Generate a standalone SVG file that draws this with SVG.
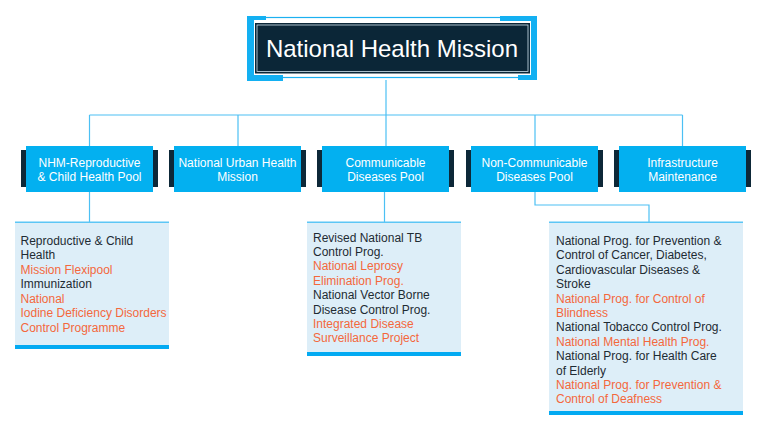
<svg xmlns="http://www.w3.org/2000/svg" width="768" height="426" viewBox="0 0 768 426">
<style>
.conn{fill:none;stroke:#4cc0f4;stroke-width:1.2}
.node{fill:#03b0f0}
.side{fill:#0d2838}
.nt{font-family:"Liberation Sans",Arial,sans-serif;font-size:12px;fill:#ffffff;text-anchor:middle}
.box{fill:#ddeef8}
.top{fill:#5cc6f5}
.bar{fill:#03aaf2}
.dt{font-family:"Liberation Sans",Arial,sans-serif;font-size:12px;fill:#1e2b33}
.o{fill:#f4683c}
</style>
<rect width="768" height="426" fill="#ffffff"/>
<g id="connectors">
<path class="conn" d="M386,80 V115 M89.5,115 H682.5 M89.5,115 V146 M238,115 V146 M386,115 V146 M535,115 V146 M682.5,115 V146"/>
<path class="conn" d="M89.5,192 V222 M384.5,192 V222 M535,192 V205 H649 V222"/>
</g>
<g id="title">
<rect x="250" y="17.5" width="284" height="60" fill="#ffffff" stroke="#1cb0f0" stroke-width="1.2"/>
<path d="M247,16 H266 V20 H254 V75 H283 V81 H247 Z" fill="#13b0f2"/>
<path d="M500,16 H537 V80 H518 V75 H531 V21 H500 Z" fill="#13b0f2"/>
<rect x="255" y="23" width="275" height="50.5" fill="#0b2637"/>
<rect x="257" y="25" width="271" height="46.5" fill="none" stroke="#cfe3ee" stroke-width="0.8"/>
<text x="392" y="57" font-family="'Liberation Sans',Arial,sans-serif" font-size="24" fill="#ffffff" text-anchor="middle">National Health Mission</text>
</g>
<g id="n1">
<rect class="side" x="21" y="150" width="137" height="37"/>
<rect class="node" x="26" y="146" width="127" height="46"/>
<text class="nt" x="89.5" y="167">NHM-Reproductive</text>
<text class="nt" x="89.5" y="181">&amp; Child Health Pool</text>
</g>
<g id="n2">
<rect class="side" x="169" y="150" width="137" height="37"/>
<rect class="node" x="174" y="146" width="127" height="46"/>
<text class="nt" x="237.5" y="167">National Urban Health</text>
<text class="nt" x="237.5" y="181">Mission</text>
</g>
<g id="n3">
<rect class="side" x="317" y="150" width="137" height="37"/>
<rect class="node" x="322" y="146" width="127" height="46"/>
<text class="nt" x="385.5" y="167">Communicable</text>
<text class="nt" x="385.5" y="181">Diseases Pool</text>
</g>
<g id="n4">
<rect class="side" x="466" y="150" width="137" height="37"/>
<rect class="node" x="471" y="146" width="127" height="46"/>
<text class="nt" x="534.5" y="167">Non-Communicable</text>
<text class="nt" x="534.5" y="181">Diseases Pool</text>
</g>
<g id="n5">
<rect class="side" x="614" y="150" width="137" height="37"/>
<rect class="node" x="619" y="146" width="127" height="46"/>
<text class="nt" x="682.5" y="167">Infrastructure</text>
<text class="nt" x="682.5" y="181">Maintenance</text>
</g>
<g id="d1">
<rect class="box" x="15" y="222" width="154" height="127"/>
<rect class="top" x="15" y="221.5" width="154" height="1.5"/>
<rect class="bar" x="15" y="345" width="154" height="4"/>
<text class="dt" x="20.5" y="245"><tspan x="20.5">Reproductive &amp; Child</tspan><tspan x="20.5" dy="14.45">Health</tspan><tspan x="20.5" dy="14.45" class="o">Mission Flexipool</tspan><tspan x="20.5" dy="14.45">Immunization</tspan><tspan x="20.5" dy="14.45" class="o">National</tspan><tspan x="20.5" dy="14.45" class="o">Iodine Deficiency Disorders</tspan><tspan x="20.5" dy="14.45" class="o">Control Programme</tspan></text>
</g>
<g id="d2">
<rect class="box" x="307" y="222" width="154" height="134"/>
<rect class="top" x="307" y="221.5" width="154" height="1.5"/>
<rect class="bar" x="307" y="352" width="154" height="4"/>
<text class="dt" x="313" y="241.7"><tspan x="313">Revised National TB</tspan><tspan x="313" dy="14.37">Control Prog.</tspan><tspan x="313" dy="14.37" class="o">National Leprosy</tspan><tspan x="313" dy="14.37" class="o">Elimination Prog.</tspan><tspan x="313" dy="14.37">National Vector Borne</tspan><tspan x="313" dy="14.37">Disease Control Prog.</tspan><tspan x="313" dy="14.37" class="o">Integrated Disease</tspan><tspan x="313" dy="14.37" class="o">Surveillance Project</tspan></text>
</g>
<g id="d3">
<rect class="box" x="549" y="222" width="194" height="193"/>
<rect class="top" x="549" y="221.5" width="194" height="1.5"/>
<rect class="bar" x="549" y="411" width="194" height="4"/>
<text class="dt" x="556" y="245"><tspan x="556">National Prog. for Prevention &amp;</tspan><tspan x="556" dy="14.39">Control of Cancer, Diabetes,</tspan><tspan x="556" dy="14.39">Cardiovascular Diseases &amp;</tspan><tspan x="556" dy="14.39">Stroke</tspan><tspan x="556" dy="14.39" class="o">National Prog. for Control of</tspan><tspan x="556" dy="14.39" class="o">Blindness</tspan><tspan x="556" dy="14.39">National Tobacco Control Prog.</tspan><tspan x="556" dy="14.39" class="o">National Mental Health Prog.</tspan><tspan x="556" dy="14.39">National Prog. for Health Care</tspan><tspan x="556" dy="14.39">of Elderly</tspan><tspan x="556" dy="14.39" class="o">National Prog. for Prevention &amp;</tspan><tspan x="556" dy="14.39" class="o">Control of Deafness</tspan></text>
</g>
</svg>
